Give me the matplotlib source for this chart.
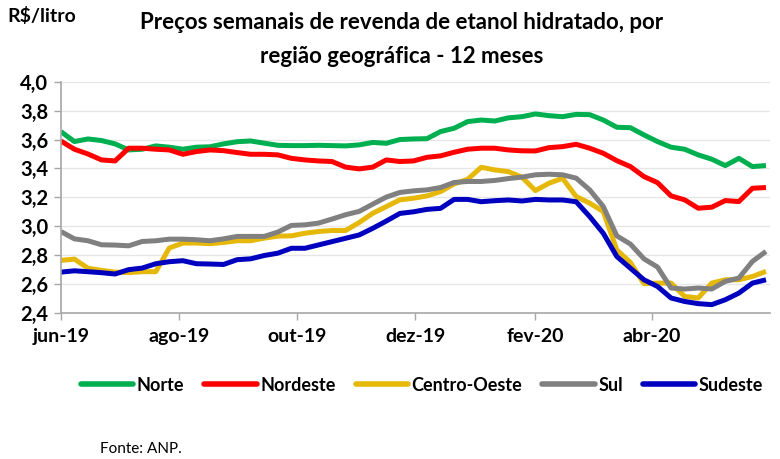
import matplotlib
matplotlib.use("Agg")
import matplotlib.pyplot as plt
import pandas as pd

plt.rcParams['font.family'] = ['Lato', 'DejaVu Sans']

weeks = pd.date_range('2019-06-01', periods=53, freq='7D')

norte = [3.655, 3.586, 3.604, 3.593, 3.57, 3.528, 3.533, 3.556, 3.547, 3.533,
         3.547, 3.55, 3.57, 3.585, 3.59, 3.575, 3.56, 3.558, 3.558, 3.56,
         3.558, 3.556, 3.563, 3.58, 3.574, 3.60, 3.604, 3.606, 3.655, 3.678,
         3.724, 3.735, 3.728, 3.75, 3.758, 3.777, 3.765, 3.758, 3.774, 3.772,
         3.735, 3.685, 3.682, 3.632, 3.586, 3.547, 3.533, 3.494, 3.464, 3.42,
         3.47, 3.413, 3.42]
nordeste = [3.59, 3.533, 3.50, 3.459, 3.452, 3.54, 3.54, 3.533, 3.528, 3.498,
            3.517, 3.528, 3.523, 3.51, 3.498, 3.498, 3.494, 3.47, 3.459, 3.452,
            3.448, 3.409, 3.397, 3.409, 3.459, 3.448, 3.452, 3.477, 3.487, 3.512,
            3.533, 3.54, 3.54, 3.528, 3.522, 3.521, 3.544, 3.551, 3.567, 3.54,
            3.505, 3.454, 3.413, 3.344, 3.302, 3.21, 3.183, 3.125, 3.132, 3.178,
            3.171, 3.263, 3.268]
centro_oeste = [2.764, 2.773, 2.71, 2.695, 2.683, 2.68, 2.686, 2.686, 2.85, 2.884,
                2.884, 2.88, 2.888, 2.90, 2.90, 2.918, 2.932, 2.934, 2.952, 2.964,
                2.971, 2.971, 3.026, 3.09, 3.136, 3.183, 3.194, 3.21, 3.24, 3.293,
                3.325, 3.408, 3.39, 3.378, 3.34, 3.247, 3.298, 3.332, 3.206, 3.16,
                3.102, 2.837, 2.75, 2.603, 2.607, 2.607, 2.515, 2.504, 2.607, 2.63,
                2.63, 2.653, 2.688]
sul = [2.964, 2.913, 2.90, 2.872, 2.87, 2.865, 2.895, 2.90, 2.911, 2.911,
       2.907, 2.90, 2.913, 2.93, 2.93, 2.93, 2.96, 3.006, 3.01, 3.022,
       3.05, 3.08, 3.103, 3.153, 3.202, 3.234, 3.245, 3.252, 3.268, 3.303,
       3.31, 3.31, 3.317, 3.33, 3.34, 3.356, 3.36, 3.356, 3.333, 3.252,
       3.137, 2.934, 2.877, 2.775, 2.718, 2.573, 2.566, 2.573, 2.566, 2.619,
       2.642, 2.757, 2.826]
sudeste = [2.683, 2.692, 2.686, 2.679, 2.67, 2.70, 2.711, 2.741, 2.755, 2.762,
           2.741, 2.739, 2.736, 2.769, 2.775, 2.798, 2.814, 2.848, 2.848, 2.871,
           2.894, 2.917, 2.94, 2.986, 3.036, 3.089, 3.10, 3.117, 3.124, 3.186,
           3.186, 3.17, 3.177, 3.182, 3.175, 3.186, 3.182, 3.182, 3.17, 3.067,
           2.952, 2.791, 2.71, 2.63, 2.584, 2.504, 2.48, 2.465, 2.458, 2.492,
           2.538, 2.607, 2.63]

series_names = ['Norte', 'Nordeste', 'Centro-Oeste', 'Sul', 'Sudeste']
series_values = [norte, nordeste, centro_oeste, sul, sudeste]
colors = ['#00B050', '#FF0000', '#E6B80A', '#808080', '#0000BF']

tick_dates = ['2019-06-01', '2019-08-01', '2019-10-01', '2019-12-01', '2020-02-01', '2020-04-01']
tick_labels = ['jun-19', 'ago-19', 'out-19', 'dez-19', 'fev-20', 'abr-20']
y_ticks = [2.4, 2.6, 2.8, 3.0, 3.2, 3.4, 3.6, 3.8, 4.0]

fig = plt.figure(figsize=(7.8, 4.59), dpi=100)
ax = fig.add_axes([0.078, 0.318, 0.909, 0.504])

for name, vals, c in zip(series_names, series_values, colors):
    ax.plot(weeks, vals, color=c, lw=3.6, label=name, solid_capstyle='butt', solid_joinstyle='round')

ax.set_ylim(2.4, 4.0)
ax.set_xlim(pd.Timestamp('2019-06-01'), pd.Timestamp('2020-06-01'))
ax.set_yticks(y_ticks)
ax.set_yticklabels([f"{v:.1f}".replace('.', ',') for v in y_ticks], fontsize=14.5, fontweight='bold')
ax.set_xticks([pd.Timestamp(d) for d in tick_dates])
ax.set_xticklabels(tick_labels, fontsize=14, fontweight='bold')
ax.tick_params(axis='both', colors='#A6A6A6', labelcolor='black', length=5, width=1)
ax.tick_params(axis='x', pad=6)
ax.tick_params(axis='y', pad=4)
ax.grid(axis='y', color='#E6E6E6', lw=1)
ax.set_axisbelow(True)
for s in ['top', 'right']:
    ax.spines[s].set_visible(False)
for s in ['left', 'bottom']:
    ax.spines[s].set_color('#A6A6A6')
    ax.spines[s].set_linewidth(1.2)

fig.text(0.515, 0.952, 'Preços semanais de revenda de etanol hidratado, por',
         ha='center', va='center', fontsize=16, fontweight='bold')
fig.text(0.515, 0.876, 'região geográfica - 12 meses',
         ha='center', va='center', fontsize=16, fontweight='bold')
fig.text(0.01, 0.965, 'R$/litro', ha='left', va='center', fontsize=14, fontweight='bold')

leg = fig.legend(loc='center', bbox_to_anchor=(0.541, 0.161), ncol=5, frameon=False,
                 handlelength=2.9, handletextpad=0.2, columnspacing=1.1,
                 prop={'weight': 'bold', 'size': 13})
for line in leg.get_lines():
    line.set_linewidth(4)
    line.set_solid_capstyle('round')

fig.text(0.128, 0.022, 'Fonte: ANP.', ha='left', va='center', fontsize=11)

fig.savefig('out.png', dpi=100)
